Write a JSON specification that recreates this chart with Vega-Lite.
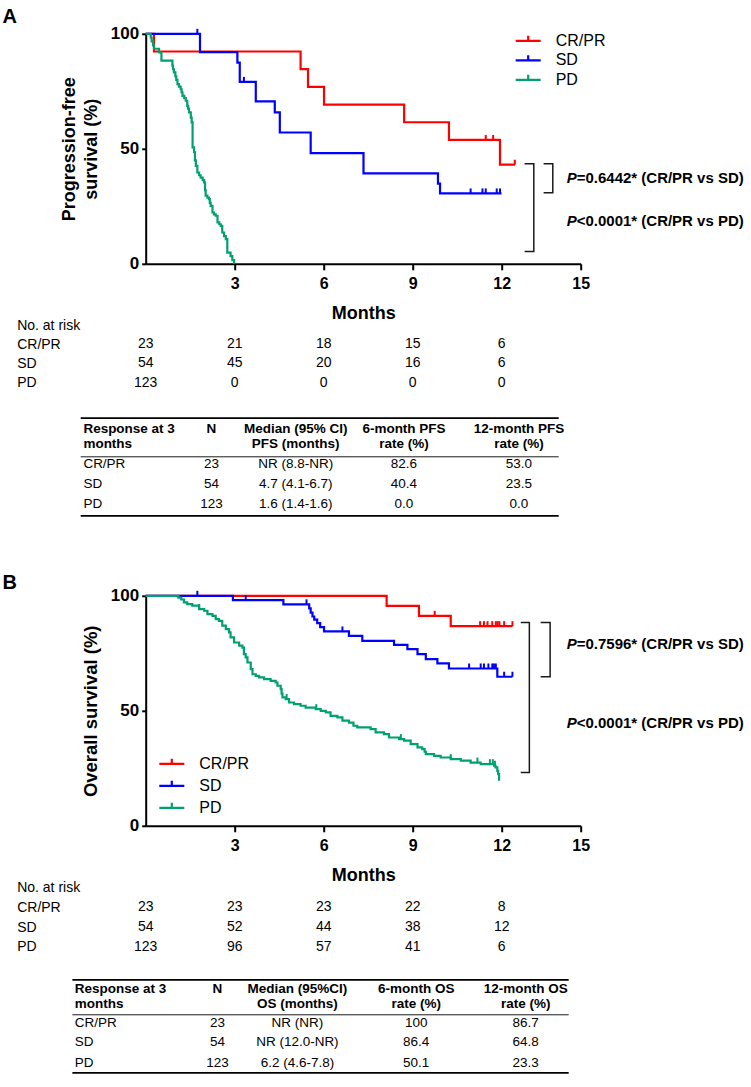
{
"$schema": "https://vega.github.io/schema/vega-lite/v6.json",
"background": "white",
"padding": {"left": 1.7, "top": 6.8, "right": 0, "bottom": 0},
"bounds": "flush",
"spacing": 0,
"config": {
  "font": "Liberation Sans",
  "view": {"stroke": null},
  "axis": {"grid": false, "labelColor": "#000", "titleColor": "#000", "domainColor": "#000", "tickColor": "#000", "labelFont": "Liberation Sans", "titleFont": "Liberation Sans"},
  "legend": {"labelFont": "Liberation Sans", "labelColor": "#000"},
  "title": {"font": "Liberation Sans", "color": "#000"},
  "text": {"font": "Liberation Sans", "color": "#000"}
},
"resolve": {"scale": {"color": "independent", "strokeWidth": "independent"}, "legend": {"color": "independent", "strokeWidth": "independent"}},
"datasets": {
  "pfs": [
    {"g":"CR/PR","t":0,"s":100},{"g":"CR/PR","t":0.28,"s":92.31},{"g":"CR/PR","t":5.22,"s":84.62},{"g":"CR/PR","t":5.47,"s":76.92},{"g":"CR/PR","t":6.01,"s":69.23},{"g":"CR/PR","t":8.71,"s":61.54},{"g":"CR/PR","t":10.22,"s":53.85},{"g":"CR/PR","t":11.94,"s":43.08},{"g":"CR/PR","t":12.44,"s":43.08},
    {"g":"SD","t":0,"s":100},{"g":"SD","t":1.83,"s":92},{"g":"SD","t":3.09,"s":87.5},{"g":"SD","t":3.17,"s":79.1},{"g":"SD","t":3.71,"s":70.6},{"g":"SD","t":4.35,"s":65.8},{"g":"SD","t":4.52,"s":57.1},{"g":"SD","t":5.56,"s":48.1},{"g":"SD","t":7.34,"s":39.3},{"g":"SD","t":9.85,"s":34.9},{"g":"SD","t":9.92,"s":30.6},{"g":"SD","t":11.99,"s":30.6},
    {"g":"PD","t":0,"s":100},{"g":"PD","t":0.17,"s":98.4},{"g":"PD","t":0.2,"s":96.7},{"g":"PD","t":0.25,"s":95},{"g":"PD","t":0.28,"s":93.5},{"g":"PD","t":0.45,"s":91.9},{"g":"PD","t":0.53,"s":88.3},{"g":"PD","t":0.9,"s":86.2},{"g":"PD","t":0.92,"s":84.6},{"g":"PD","t":0.95,"s":83.2},{"g":"PD","t":1.0,"s":81.5},{"g":"PD","t":1.03,"s":80},{"g":"PD","t":1.07,"s":78.1},{"g":"PD","t":1.12,"s":77},{"g":"PD","t":1.18,"s":75.9},{"g":"PD","t":1.21,"s":74.5},{"g":"PD","t":1.24,"s":73},{"g":"PD","t":1.3,"s":72},{"g":"PD","t":1.35,"s":70.9},{"g":"PD","t":1.4,"s":68.7},{"g":"PD","t":1.43,"s":67.5},{"g":"PD","t":1.46,"s":65.8},{"g":"PD","t":1.52,"s":63.6},{"g":"PD","t":1.55,"s":61.5},{"g":"PD","t":1.58,"s":50.6},{"g":"PD","t":1.63,"s":48.5},{"g":"PD","t":1.66,"s":45},{"g":"PD","t":1.69,"s":42.6},{"g":"PD","t":1.74,"s":39.7},{"g":"PD","t":1.8,"s":38.5},{"g":"PD","t":1.85,"s":37.5},{"g":"PD","t":1.92,"s":36.4},{"g":"PD","t":1.97,"s":35.4},{"g":"PD","t":2.0,"s":32},{"g":"PD","t":2.02,"s":29.6},{"g":"PD","t":2.08,"s":28.8},{"g":"PD","t":2.13,"s":28.1},{"g":"PD","t":2.16,"s":26.5},{"g":"PD","t":2.19,"s":25.2},{"g":"PD","t":2.25,"s":22.3},{"g":"PD","t":2.3,"s":21.5},{"g":"PD","t":2.36,"s":20.9},{"g":"PD","t":2.42,"s":18},{"g":"PD","t":2.48,"s":17.2},{"g":"PD","t":2.53,"s":16.5},{"g":"PD","t":2.58,"s":13.6},{"g":"PD","t":2.64,"s":12},{"g":"PD","t":2.7,"s":10.7},{"g":"PD","t":2.75,"s":4.9},{"g":"PD","t":2.86,"s":3.3},{"g":"PD","t":2.92,"s":1.6},{"g":"PD","t":2.98,"s":0}
  ],
  "pfsCens": [
    {"g":"CR/PR","t":11.46,"s":53.85},{"g":"CR/PR","t":11.71,"s":53.85},{"g":"CR/PR","t":12.44,"s":43.08},
    {"g":"SD","t":1.74,"s":100},{"g":"SD","t":3.31,"s":79.1},{"g":"SD","t":10.95,"s":30.6},{"g":"SD","t":11.35,"s":30.6},{"g":"SD","t":11.46,"s":30.6},{"g":"SD","t":11.83,"s":30.6},{"g":"SD","t":11.94,"s":30.6}
  ],
  "os": [
    {"g":"CR/PR","t":0,"s":100},{"g":"CR/PR","t":8.12,"s":95.65},{"g":"CR/PR","t":9.21,"s":91.3},{"g":"CR/PR","t":10.28,"s":86.8},{"g":"CR/PR","t":12.36,"s":86.8},
    {"g":"SD","t":0,"s":100},{"g":"SD","t":2.94,"s":98.1},{"g":"SD","t":4.64,"s":96.3},{"g":"SD","t":5.51,"s":94.5},{"g":"SD","t":5.56,"s":92.7},{"g":"SD","t":5.62,"s":91.0},{"g":"SD","t":5.68,"s":89.6},{"g":"SD","t":5.78,"s":88.1},{"g":"SD","t":5.88,"s":86.4},{"g":"SD","t":6.01,"s":84.5},{"g":"SD","t":6.85,"s":82.6},{"g":"SD","t":7.3,"s":80.4},{"g":"SD","t":8.37,"s":78.7},{"g":"SD","t":8.82,"s":76.8},{"g":"SD","t":9.16,"s":74.6},{"g":"SD","t":9.44,"s":72.5},{"g":"SD","t":9.83,"s":70.6},{"g":"SD","t":10.22,"s":68.4},{"g":"SD","t":11.85,"s":64.8},{"g":"SD","t":12.36,"s":64.8},
    {"g":"PD","t":0,"s":100},{"g":"PD","t":1.1,"s":99.2},{"g":"PD","t":1.2,"s":98.4},{"g":"PD","t":1.29,"s":97.1},{"g":"PD","t":1.4,"s":96.4},{"g":"PD","t":1.57,"s":95.7},{"g":"PD","t":1.8,"s":94.2},{"g":"PD","t":1.97,"s":93.5},{"g":"PD","t":2.08,"s":92.0},{"g":"PD","t":2.25,"s":91.3},{"g":"PD","t":2.36,"s":89.9},{"g":"PD","t":2.47,"s":89.1},{"g":"PD","t":2.58,"s":87.0},{"g":"PD","t":2.7,"s":85.5},{"g":"PD","t":2.81,"s":84.1},{"g":"PD","t":2.86,"s":81.9},{"g":"PD","t":2.98,"s":79.7},{"g":"PD","t":3.15,"s":78.3},{"g":"PD","t":3.26,"s":77.5},{"g":"PD","t":3.31,"s":74.6},{"g":"PD","t":3.37,"s":73.2},{"g":"PD","t":3.43,"s":71.0},{"g":"PD","t":3.54,"s":68.1},{"g":"PD","t":3.6,"s":65.9},{"g":"PD","t":3.71,"s":65.2},{"g":"PD","t":3.82,"s":64.5},{"g":"PD","t":3.99,"s":63.8},{"g":"PD","t":4.21,"s":63.0},{"g":"PD","t":4.38,"s":62.3},{"g":"PD","t":4.44,"s":60.9},{"g":"PD","t":4.55,"s":59.4},{"g":"PD","t":4.58,"s":57.5},{"g":"PD","t":4.61,"s":55.8},{"g":"PD","t":4.72,"s":55.1},{"g":"PD","t":4.83,"s":53.6},{"g":"PD","t":5.0,"s":52.9},{"g":"PD","t":5.22,"s":52.2},{"g":"PD","t":5.39,"s":51.4},{"g":"PD","t":5.73,"s":50.7},{"g":"PD","t":5.9,"s":50.0},{"g":"PD","t":6.07,"s":49.3},{"g":"PD","t":6.23,"s":47.8},{"g":"PD","t":6.46,"s":47.1},{"g":"PD","t":6.63,"s":45.7},{"g":"PD","t":6.85,"s":44.9},{"g":"PD","t":7.0,"s":43.5},{"g":"PD","t":7.13,"s":42.8},{"g":"PD","t":7.58,"s":42.0},{"g":"PD","t":7.75,"s":40.6},{"g":"PD","t":8.03,"s":39.9},{"g":"PD","t":8.2,"s":38.4},{"g":"PD","t":8.54,"s":37.7},{"g":"PD","t":8.71,"s":37.0},{"g":"PD","t":8.93,"s":35.5},{"g":"PD","t":9.16,"s":34.1},{"g":"PD","t":9.32,"s":33.3},{"g":"PD","t":9.4,"s":32.2},{"g":"PD","t":9.44,"s":31.2},{"g":"PD","t":9.72,"s":30.4},{"g":"PD","t":9.94,"s":29.7},{"g":"PD","t":10.28,"s":29.0},{"g":"PD","t":10.62,"s":28.3},{"g":"PD","t":10.95,"s":27.5},{"g":"PD","t":11.29,"s":26.8},{"g":"PD","t":11.74,"s":26.1},{"g":"PD","t":11.79,"s":25.4},{"g":"PD","t":11.85,"s":23.9},{"g":"PD","t":11.88,"s":22.5},{"g":"PD","t":11.91,"s":19.6}
  ],
  "osCens": [
    {"g":"CR/PR","t":9.74,"s":91.3},{"g":"CR/PR","t":11.27,"s":86.8},{"g":"CR/PR","t":11.4,"s":86.8},{"g":"CR/PR","t":11.52,"s":86.8},{"g":"CR/PR","t":11.68,"s":86.8},{"g":"CR/PR","t":11.8,"s":86.8},{"g":"CR/PR","t":11.86,"s":86.8},{"g":"CR/PR","t":11.92,"s":86.8},{"g":"CR/PR","t":12.08,"s":86.8},{"g":"CR/PR","t":12.36,"s":86.8},
    {"g":"SD","t":1.74,"s":100},{"g":"SD","t":3.37,"s":98.1},{"g":"SD","t":5.42,"s":96.3},{"g":"SD","t":6.63,"s":84.5},{"g":"SD","t":10.9,"s":68.4},{"g":"SD","t":11.29,"s":68.4},{"g":"SD","t":11.4,"s":68.4},{"g":"SD","t":11.55,"s":68.4},{"g":"SD","t":11.68,"s":68.4},{"g":"SD","t":11.74,"s":68.4},{"g":"SD","t":11.8,"s":68.4},{"g":"SD","t":12.08,"s":64.8},{"g":"SD","t":12.36,"s":64.8},
    {"g":"PD","t":1.8,"s":94.2},{"g":"PD","t":4.75,"s":55.1},{"g":"PD","t":5.75,"s":50.7},{"g":"PD","t":8.6,"s":37.7},{"g":"PD","t":10.28,"s":29.0},{"g":"PD","t":11.18,"s":27.5},{"g":"PD","t":11.6,"s":26.8},{"g":"PD","t":11.7,"s":26.8},{"g":"PD","t":11.77,"s":26.1}
  ],
  "brA": [
    {"id":1,"t":13.41,"s":43.5},{"id":1,"t":13.72,"s":43.5},{"id":1,"t":13.72,"s":30.9},{"id":1,"t":13.41,"s":30.9},
    {"id":2,"t":12.77,"s":43.5},{"id":2,"t":13.08,"s":43.5},{"id":2,"t":13.08,"s":5.3},{"id":2,"t":12.77,"s":5.3}
  ],
  "brB": [
    {"id":1,"t":13.31,"s":88.4},{"id":1,"t":13.63,"s":88.4},{"id":1,"t":13.63,"s":64.8},{"id":1,"t":13.31,"s":64.8},
    {"id":2,"t":12.64,"s":88.4},{"id":2,"t":12.93,"s":88.4},{"id":2,"t":12.93,"s":23.2},{"id":2,"t":12.64,"s":23.2}
  ],
  "pA": [
    {"t":14.19,"s":37.5,"txt":"=0.6442* (CR/PR vs SD)"},
    {"t":14.19,"s":18.7,"txt":"<0.0001* (CR/PR vs PD)"}
  ],
  "pB": [
    {"t":14.19,"s":79,"txt":"=0.7596* (CR/PR vs SD)"},
    {"t":14.19,"s":44.7,"txt":"<0.0001* (CR/PR vs PD)"}
  ],
  "riskA": [
    {"row":"CR/PR","month":0,"n":"23"},{"row":"CR/PR","month":3,"n":"21"},{"row":"CR/PR","month":6,"n":"18"},{"row":"CR/PR","month":9,"n":"15"},{"row":"CR/PR","month":12,"n":"6"},
    {"row":"SD","month":0,"n":"54"},{"row":"SD","month":3,"n":"45"},{"row":"SD","month":6,"n":"20"},{"row":"SD","month":9,"n":"16"},{"row":"SD","month":12,"n":"6"},
    {"row":"PD","month":0,"n":"123"},{"row":"PD","month":3,"n":"0"},{"row":"PD","month":6,"n":"0"},{"row":"PD","month":9,"n":"0"},{"row":"PD","month":12,"n":"0"}
  ],
  "riskB": [
    {"row":"CR/PR","month":0,"n":"23"},{"row":"CR/PR","month":3,"n":"23"},{"row":"CR/PR","month":6,"n":"23"},{"row":"CR/PR","month":9,"n":"22"},{"row":"CR/PR","month":12,"n":"8"},
    {"row":"SD","month":0,"n":"54"},{"row":"SD","month":3,"n":"52"},{"row":"SD","month":6,"n":"44"},{"row":"SD","month":9,"n":"38"},{"row":"SD","month":12,"n":"12"},
    {"row":"PD","month":0,"n":"123"},{"row":"PD","month":3,"n":"96"},{"row":"PD","month":6,"n":"57"},{"row":"PD","month":9,"n":"41"},{"row":"PD","month":12,"n":"6"}
  ],
  "rules": [
    {"r":0,"kind":"outer"},{"r":2,"kind":"inner"},{"r":6,"kind":"outer"}
  ],
  "tblA": [
    {"r":1,"c":0,"txt":"Response at 3\nmonths"},{"r":1,"c":1,"txt":"N\n "},{"r":1,"c":2,"txt":"Median (95% CI)\nPFS (months)"},{"r":1,"c":3,"txt":"6-month PFS\nrate (%)"},{"r":1,"c":4,"txt":"12-month PFS\nrate (%)"},
    {"r":3,"c":0,"txt":"CR/PR"},{"r":3,"c":1,"txt":"23"},{"r":3,"c":2,"txt":"NR (8.8-NR)"},{"r":3,"c":3,"txt":"82.6"},{"r":3,"c":4,"txt":"53.0"},
    {"r":4,"c":0,"txt":"SD"},{"r":4,"c":1,"txt":"54"},{"r":4,"c":2,"txt":"4.7 (4.1-6.7)"},{"r":4,"c":3,"txt":"40.4"},{"r":4,"c":4,"txt":"23.5"},
    {"r":5,"c":0,"txt":"PD"},{"r":5,"c":1,"txt":"123"},{"r":5,"c":2,"txt":"1.6 (1.4-1.6)"},{"r":5,"c":3,"txt":"0.0"},{"r":5,"c":4,"txt":"0.0"}
  ],
  "tblB": [
    {"r":1,"c":0,"txt":"Response at 3\nmonths"},{"r":1,"c":1,"txt":"N\n "},{"r":1,"c":2,"txt":"Median (95%CI)\nOS (months)"},{"r":1,"c":3,"txt":"6-month OS\nrate (%)"},{"r":1,"c":4,"txt":"12-month OS\nrate (%)"},
    {"r":3,"c":0,"txt":"CR/PR"},{"r":3,"c":1,"txt":"23"},{"r":3,"c":2,"txt":"NR (NR)"},{"r":3,"c":3,"txt":"100"},{"r":3,"c":4,"txt":"86.7"},
    {"r":4,"c":0,"txt":"SD"},{"r":4,"c":1,"txt":"54"},{"r":4,"c":2,"txt":"NR (12.0-NR)"},{"r":4,"c":3,"txt":"86.4"},{"r":4,"c":4,"txt":"64.8"},
    {"r":5,"c":0,"txt":"PD"},{"r":5,"c":1,"txt":"123"},{"r":5,"c":2,"txt":"6.2 (4.6-7.8)"},{"r":5,"c":3,"txt":"50.1"},{"r":5,"c":4,"txt":"23.3"}
  ]
},
"vconcat": [
  {
    "width": 435, "height": 230,
    "title": {"text": "A", "anchor": "start", "frame": "group", "fontSize": 20, "fontWeight": "bold", "dx": -143.3, "dy": 2.3, "offset": 0},
    "layer": [
      {"data": {"name": "pfs"}, "mark": {"type": "line", "interpolate": "step-after", "strokeWidth": 2.2},
       "encoding": {
         "x": {"field": "t", "type": "quantitative", "scale": {"domain": [0, 14.66], "nice": false},
               "axis": {"values": [3,6,9,12,14.66], "labelExpr": "datum.value > 14 ? '15' : datum.label", "labelFlush": false, "labelOverlap": false, "title": "Months", "titleFontSize": 18, "titleFontWeight": "bold", "titlePadding": 13, "labelFontSize": 16, "labelFontWeight": "bold", "labelPadding": 6, "tickSize": 6, "tickWidth": 2, "domainWidth": 2}},
         "y": {"field": "s", "type": "quantitative", "scale": {"domain": [0, 100], "nice": false},
               "axis": {"values": [0,50,100], "title": ["Progression-free", "survival (%)"], "titleFontSize": 18, "titleFontWeight": "bold", "titleLineHeight": 22, "titlePadding": 10, "labelFontSize": 17, "labelFontWeight": "bold", "labelPadding": 3, "tickSize": 4, "tickWidth": 2, "domainWidth": 2, "labelFlush": false}},
         "color": {"field": "g", "type": "nominal", "scale": {"domain": ["CR/PR","SD","PD"], "range": ["#ff0000","#0000ff","#00a070"]},
               "legend": {"orient": "none", "legendX": 374.5, "legendY": -1, "title": null, "symbolType": "M-2.5,0L2.5,0M0,0L0,-1", "symbolSize": 100, "symbolStrokeWidth": 2.2, "symbolFillColor": "transparent", "symbolOpacity": 1, "labelFontSize": 16, "labelOffset": 19.5, "rowPadding": 1.5, "padding": 0}},
         "order": {"value": null}}},
      {"data": {"name": "pfsCens"}, "mark": {"type": "point", "shape": "M0,0L0,-1", "size": 100, "strokeWidth": 2, "filled": false, "opacity": 1},
       "encoding": {"x": {"field": "t", "type": "quantitative"}, "y": {"field": "s", "type": "quantitative"}, "color": {"field": "g", "type": "nominal"}}},
      {"data": {"name": "brA"}, "mark": {"type": "line", "color": "#1a1a1a", "strokeWidth": 1.5},
       "encoding": {"x": {"field": "t", "type": "quantitative"}, "y": {"field": "s", "type": "quantitative"}, "detail": {"field": "id", "type": "nominal"}, "order": {"value": null}}},
      {"data": {"name": "pA"}, "mark": {"type": "text", "text": "P", "fontStyle": "italic", "fontWeight": "bold", "fontSize": 15, "align": "left", "baseline": "middle"},
       "encoding": {"x": {"field": "t", "type": "quantitative"}, "y": {"field": "s", "type": "quantitative"}}},
      {"data": {"name": "pA"}, "mark": {"type": "text", "fontWeight": "bold", "fontSize": 15, "align": "left", "baseline": "middle", "dx": 10},
       "encoding": {"x": {"field": "t", "type": "quantitative"}, "y": {"field": "s", "type": "quantitative"}, "text": {"field": "txt", "type": "nominal"}}}
    ]
  },
  {
    "width": 435, "height": 146.7,
    "data": {"name": "riskA"},
    "mark": {"type": "text", "fontSize": 14, "baseline": "middle", "align": "center"},
    "encoding": {
      "x": {"field": "month", "type": "quantitative", "scale": {"domain": [0, 14.66], "nice": false}, "axis": null},
      "y": {"field": "row", "type": "nominal", "scale": {"type": "point", "domain": ["No. at risk","CR/PR","SD","PD"], "range": [61.3, 118.8], "padding": 0},
            "axis": {"title": null, "domain": false, "ticks": false, "tickSize": 0, "labelAlign": "left", "labelPadding": 129, "labelFontSize": 14, "labelBaseline": "middle"}},
      "text": {"field": "n", "type": "nominal"}
    }
  },
  {
    "width": 435, "height": 185,
    "layer": [
      {"data": {"name": "rules"}, "mark": {"type": "rule", "color": "#000"},
       "encoding": {
         "x": {"datum": -0.5, "type": "quantitative", "scale": {"type": "linear", "domain": [-0.5,0,1,2,3,4,4.5], "range": [-65,-62.3,65.7,150,258.3,373.3,413], "nice": false, "zero": false}, "axis": null},
         "x2": {"datum": 4.5},
         "y": {"field": "r", "type": "quantitative", "scale": {"type": "linear", "domain": [0,1,2,3,4,5,6], "range": [7.3,25.8,46,53.3,73.3,93.3,105], "nice": false, "zero": false}, "axis": null},
         "strokeWidth": {"field": "kind", "type": "nominal", "scale": {"domain": ["outer","inner"], "range": [1.8, 0.9]}, "legend": null}}},
      {"data": {"name": "tblA"}, "transform": [{"filter": "datum.r == 1 && datum.c == 0"}],
       "mark": {"type": "text", "align": "left", "baseline": "middle", "fontSize": 13.5, "fontWeight": "bold", "lineBreak": "\n", "lineHeight": 15, "dy": -7.5},
       "encoding": {"x": {"field": "c", "type": "quantitative"}, "y": {"field": "r", "type": "quantitative"}, "text": {"field": "txt", "type": "nominal"}}},
      {"data": {"name": "tblA"}, "transform": [{"filter": "datum.r == 1 && datum.c > 0"}],
       "mark": {"type": "text", "align": "center", "baseline": "middle", "fontSize": 13.5, "fontWeight": "bold", "lineBreak": "\n", "lineHeight": 15, "dy": -7.5},
       "encoding": {"x": {"field": "c", "type": "quantitative"}, "y": {"field": "r", "type": "quantitative"}, "text": {"field": "txt", "type": "nominal"}}},
      {"data": {"name": "tblA"}, "transform": [{"filter": "datum.r > 1 && datum.c == 0"}],
       "mark": {"type": "text", "align": "left", "baseline": "middle", "fontSize": 13.5},
       "encoding": {"x": {"field": "c", "type": "quantitative"}, "y": {"field": "r", "type": "quantitative"}, "text": {"field": "txt", "type": "nominal"}}},
      {"data": {"name": "tblA"}, "transform": [{"filter": "datum.r > 1 && datum.c > 0"}],
       "mark": {"type": "text", "align": "center", "baseline": "middle", "fontSize": 13.5},
       "encoding": {"x": {"field": "c", "type": "quantitative"}, "y": {"field": "r", "type": "quantitative"}, "text": {"field": "txt", "type": "nominal"}}}
    ]
  },
  {
    "width": 435, "height": 230,
    "title": {"text": "B", "anchor": "start", "frame": "group", "fontSize": 20, "fontWeight": "bold", "dx": -143.3, "dy": 6.5, "offset": 0},
    "layer": [
      {"data": {"name": "os"}, "mark": {"type": "line", "interpolate": "step-after", "strokeWidth": 2.2},
       "encoding": {
         "x": {"field": "t", "type": "quantitative", "scale": {"domain": [0, 14.66], "nice": false},
               "axis": {"values": [3,6,9,12,14.66], "labelExpr": "datum.value > 14 ? '15' : datum.label", "labelFlush": false, "labelOverlap": false, "title": "Months", "titleFontSize": 18, "titleFontWeight": "bold", "titlePadding": 13, "labelFontSize": 16, "labelFontWeight": "bold", "labelPadding": 6, "tickSize": 6, "tickWidth": 2, "domainWidth": 2}},
         "y": {"field": "s", "type": "quantitative", "scale": {"domain": [0, 100], "nice": false},
               "axis": {"values": [0,50,100], "title": "Overall survival (%)", "titleFontSize": 18.5, "titleFontWeight": "bold", "titlePadding": 10, "labelFontSize": 17, "labelFontWeight": "bold", "labelPadding": 3, "tickSize": 4, "tickWidth": 2, "domainWidth": 2, "labelFlush": false}},
         "color": {"field": "g", "type": "nominal", "scale": {"domain": ["CR/PR","SD","PD"], "range": ["#ff0000","#0000ff","#00a070"]},
               "legend": {"orient": "none", "legendX": 18.1, "legendY": 160, "title": null, "symbolType": "M-2.5,0L2.5,0M0,0L0,-1", "symbolSize": 100, "symbolStrokeWidth": 2.2, "symbolFillColor": "transparent", "symbolOpacity": 1, "labelFontSize": 16, "labelOffset": 19.5, "rowPadding": 4, "padding": 0}},
         "order": {"value": null}}},
      {"data": {"name": "osCens"}, "mark": {"type": "point", "shape": "M0,0L0,-1", "size": 100, "strokeWidth": 2, "filled": false, "opacity": 1},
       "encoding": {"x": {"field": "t", "type": "quantitative"}, "y": {"field": "s", "type": "quantitative"}, "color": {"field": "g", "type": "nominal"}}},
      {"data": {"name": "brB"}, "mark": {"type": "line", "color": "#1a1a1a", "strokeWidth": 1.5},
       "encoding": {"x": {"field": "t", "type": "quantitative"}, "y": {"field": "s", "type": "quantitative"}, "detail": {"field": "id", "type": "nominal"}, "order": {"value": null}}},
      {"data": {"name": "pB"}, "mark": {"type": "text", "text": "P", "fontStyle": "italic", "fontWeight": "bold", "fontSize": 15, "align": "left", "baseline": "middle"},
       "encoding": {"x": {"field": "t", "type": "quantitative"}, "y": {"field": "s", "type": "quantitative"}}},
      {"data": {"name": "pB"}, "mark": {"type": "text", "fontWeight": "bold", "fontSize": 15, "align": "left", "baseline": "middle", "dx": 10},
       "encoding": {"x": {"field": "t", "type": "quantitative"}, "y": {"field": "s", "type": "quantitative"}, "text": {"field": "txt", "type": "nominal"}}}
    ]
  },
  {
    "width": 435, "height": 145,
    "data": {"name": "riskB"},
    "mark": {"type": "text", "fontSize": 14, "baseline": "middle", "align": "center"},
    "encoding": {
      "x": {"field": "month", "type": "quantitative", "scale": {"domain": [0, 14.66], "nice": false}, "axis": null},
      "y": {"field": "row", "type": "nominal", "scale": {"type": "point", "domain": ["No. at risk","CR/PR","SD","PD"], "range": [62, 121], "padding": 0},
            "axis": {"title": null, "domain": false, "ticks": false, "tickSize": 0, "labelAlign": "left", "labelPadding": 129, "labelFontSize": 14, "labelBaseline": "middle"}},
      "text": {"field": "n", "type": "nominal"}
    }
  },
  {
    "width": 435, "height": 110,
    "layer": [
      {"data": {"name": "rules"}, "mark": {"type": "rule", "color": "#000"},
       "encoding": {
         "x": {"datum": -0.5, "type": "quantitative", "scale": {"type": "linear", "domain": [-0.5,0,1,2,3,4,4.5], "range": [-73.3,-71,71.7,151.7,270.5,380,423], "nice": false, "zero": false}, "axis": null},
         "x2": {"datum": 4.5},
         "y": {"field": "r", "type": "quantitative", "scale": {"type": "linear", "domain": [0,1,2,3,4,5,6], "range": [9,25.8,44,52.3,71.7,92.3,102], "nice": false, "zero": false}, "axis": null},
         "strokeWidth": {"field": "kind", "type": "nominal", "scale": {"domain": ["outer","inner"], "range": [1.8, 0.9]}, "legend": null}}},
      {"data": {"name": "tblB"}, "transform": [{"filter": "datum.r == 1 && datum.c == 0"}],
       "mark": {"type": "text", "align": "left", "baseline": "middle", "fontSize": 13.5, "fontWeight": "bold", "lineBreak": "\n", "lineHeight": 15, "dy": -7.5},
       "encoding": {"x": {"field": "c", "type": "quantitative"}, "y": {"field": "r", "type": "quantitative"}, "text": {"field": "txt", "type": "nominal"}}},
      {"data": {"name": "tblB"}, "transform": [{"filter": "datum.r == 1 && datum.c > 0"}],
       "mark": {"type": "text", "align": "center", "baseline": "middle", "fontSize": 13.5, "fontWeight": "bold", "lineBreak": "\n", "lineHeight": 15, "dy": -7.5},
       "encoding": {"x": {"field": "c", "type": "quantitative"}, "y": {"field": "r", "type": "quantitative"}, "text": {"field": "txt", "type": "nominal"}}},
      {"data": {"name": "tblB"}, "transform": [{"filter": "datum.r > 1 && datum.c == 0"}],
       "mark": {"type": "text", "align": "left", "baseline": "middle", "fontSize": 13.5},
       "encoding": {"x": {"field": "c", "type": "quantitative"}, "y": {"field": "r", "type": "quantitative"}, "text": {"field": "txt", "type": "nominal"}}},
      {"data": {"name": "tblB"}, "transform": [{"filter": "datum.r > 1 && datum.c > 0"}],
       "mark": {"type": "text", "align": "center", "baseline": "middle", "fontSize": 13.5},
       "encoding": {"x": {"field": "c", "type": "quantitative"}, "y": {"field": "r", "type": "quantitative"}, "text": {"field": "txt", "type": "nominal"}}}
    ]
  }
]
}
